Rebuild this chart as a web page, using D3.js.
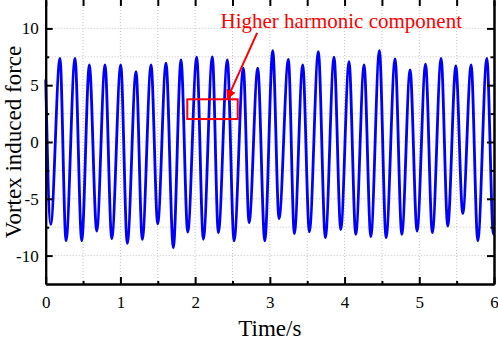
<!DOCTYPE html>
<html>
<head>
<meta charset="utf-8">
<script src="https://cdn.jsdelivr.net/npm/d3@7"></script>
<style>
body { margin: 0; background: #fff; }
text { font-family: "Liberation Serif", "Times New Roman", serif; }
</style>
</head>
<body>
<script>
// peaks and troughs (time in s, force)
var times = [0, 0.067, 0.191, 0.272, 0.392, 0.482, 0.584, 0.683, 0.794, 0.884,
	1.004, 1.092, 1.209, 1.293, 1.41, 1.499, 1.61, 1.708, 1.811, 1.901,
	2.021, 2.11, 2.23, 2.311, 2.431, 2.521, 2.645, 2.722, 2.838, 2.932,
	3.039, 3.123, 3.248, 3.328, 3.44, 3.529, 3.649, 3.743, 3.859, 3.949,
	4.06, 4.15, 4.261, 4.351, 4.466, 4.556, 4.676, 4.766, 4.877, 4.97,
	5.084, 5.175, 5.292, 5.381, 5.489, 5.582, 5.694, 5.783, 5.904, 5.992, 6];
var force = [5.5, -7.25, 7.37, -8.7, 7.37, -8.7, 6.78, -7.84, 6.78, -8.5,
	6.78, -8.92, 6.2, -8.57, 6.78, -7.2, 6.93, -9.3, 7.22, -7.93,
	7.46, -8.57, 7.5, -7.98, 7.22, -8.7, 6.49, -7.1, 6.49, -8.7,
	8.04, -6.75, 7.28, -8.07, 6.78, -7.9, 7.95, -8.42, 7.46, -7.7,
	7.07, -8.13, 6.78, -8.33, 8.04, -8.42, 7.31, -8.13, 6.34, -7.84,
	6.85, -7.98, 7.37, -7.4, 6.69, -6.29, 6.78, -8.7, 7.37, -8.13, -8.0];

var xTicks = [0, 1, 2, 3, 4, 5, 6],
	yTicks = [-10, -5, 0, 5, 10];

var noteText = "Higher harmonic component";

var width = 498, height = 341;
var margin = {top: 0, left: 45.7, right: 4, bottom: 57};

var x = d3.scaleLinear()
	.domain([0, 6])
	.range([margin.left, width - margin.right]);

var y = d3.scaleLinear()
	.domain([-12.5, 12.5])
	.range([height - margin.bottom, margin.top]);

var svg = d3.select('body')
	.append('svg')
	.attr('width', width)
	.attr('height', height);

// dotted grid at every major and minor tick
var gx = d3.range(0.5, 6, 0.5),
	gy = d3.range(-10, 12.5, 2.5);

svg.append('g')
	.selectAll('line')
	.data(gx)
	.enter().append('line')
	.attr('x1', function(d) { return x(d); })
	.attr('x2', function(d) { return x(d); })
	.attr('y1', y(-12.5))
	.attr('y2', y(12.5))
	.attr('stroke', '#c4c4c4')
	.attr('stroke-dasharray', '1,2');

svg.append('g')
	.selectAll('line')
	.data(gy)
	.enter().append('line')
	.attr('x1', x(0))
	.attr('x2', x(6))
	.attr('y1', function(d) { return y(d); })
	.attr('y2', function(d) { return y(d); })
	.attr('stroke', '#c4c4c4')
	.attr('stroke-dasharray', '1,2');

// the signal
var pts = times.map(function(t, i) { return [t, force[i]]; });

var line = d3.line()
	.x(function(d) { return x(d[0]); })
	.y(function(d) { return y(d[1]); })
	.curve(d3.curveMonotoneX);

svg.append('path')
	.datum(pts)
	.attr('fill', 'none')
	.attr('stroke', '#0000ff')
	.attr('stroke-width', 2.8)
	.attr('stroke-linejoin', 'round')
	.attr('d', line);

// axes, ticks pointing inward
function styleAxis(g) {
	g.select('.domain').attr('stroke', '#000').attr('stroke-width', 2);
	g.selectAll('.tick line').attr('stroke', '#000').attr('stroke-width', 2);
	g.selectAll('.tick text')
		.attr('fill', '#000')
		.style('font-size', '17px')
		.style('font-family', '"Liberation Serif", serif');
}

var plain = function(d) { return String(d); };

var xMinor = d3.range(0.5, 6, 1),
	yMinor = [-7.5, -2.5, 2.5, 7.5];

svg.append('g')
	.attr('transform', 'translate(0,' + y(-12.5) + ')')
	.call(d3.axisBottom(x).tickValues(xTicks).tickSize(-7).tickPadding(12).tickFormat(plain).tickSizeOuter(0))
	.call(styleAxis);

svg.append('g')
	.attr('transform', 'translate(0,' + y(-12.5) + ')')
	.call(d3.axisBottom(x).tickValues(xMinor).tickSize(-3).tickFormat('').tickSizeOuter(0))
	.call(styleAxis);

var topAxis = svg.append('g')
	.attr('transform', 'translate(0,' + y(12.5) + ')')
	.call(d3.axisTop(x).tickValues(xTicks.concat(xMinor)).tickSize(-6).tickFormat('').tickSizeOuter(0))
	.call(styleAxis);
topAxis.select('.domain').remove();

svg.append('g')
	.attr('transform', 'translate(' + x(0) + ',0)')
	.call(d3.axisLeft(y).tickValues(yTicks).tickSize(-7).tickPadding(7).tickFormat(plain).tickSizeOuter(0))
	.call(styleAxis);

svg.append('g')
	.attr('transform', 'translate(' + x(0) + ',0)')
	.call(d3.axisLeft(y).tickValues(yMinor).tickSize(-3.5).tickFormat('').tickSizeOuter(0))
	.call(styleAxis);

svg.append('g')
	.attr('transform', 'translate(' + x(6) + ',0)')
	.call(d3.axisRight(y).tickValues(yTicks).tickSize(-7).tickFormat('').tickSizeOuter(0))
	.call(styleAxis);

svg.append('g')
	.attr('transform', 'translate(' + x(6) + ',0)')
	.call(d3.axisRight(y).tickValues(yMinor).tickSize(-3.5).tickFormat('').tickSizeOuter(0))
	.call(styleAxis);

// axis titles
svg.append('text')
	.attr('x', (x(0) + x(6)) / 2)
	.attr('y', 336)
	.attr('text-anchor', 'middle')
	.style('font-size', '23px')
	.text('Time/s');

svg.append('text')
	.attr('transform', 'translate(21,' + y(0) + ') rotate(-90)')
	.attr('text-anchor', 'middle')
	.style('font-size', '23px')
	.text('Vortex induced force');

// annotation
var red = '#ff0000';

svg.append('defs').append('marker')
	.attr('id', 'head')
	.attr('viewBox', '0 0 10 10')
	.attr('refX', 9)
	.attr('refY', 5)
	.attr('markerWidth', 5)
	.attr('markerHeight', 5)
	.attr('orient', 'auto')
	.append('path')
	.attr('d', 'M0,0L10,5L0,10z')
	.attr('fill', red);

svg.append('rect')
	.attr('x', x(1.895))
	.attr('y', y(3.76))
	.attr('width', x(2.57) - x(1.895))
	.attr('height', y(2.02) - y(3.76))
	.attr('fill', 'none')
	.attr('stroke', red)
	.attr('stroke-width', 2);

svg.append('line')
	.attr('x1', x(2.83))
	.attr('y1', y(9.6))
	.attr('x2', x(2.43))
	.attr('y2', y(3.8))
	.attr('stroke', red)
	.attr('stroke-width', 2)
	.attr('marker-end', 'url(#head)');

svg.append('text')
	.attr('x', x(2.34))
	.attr('y', 28)
	.attr('fill', red)
	.style('font-size', '21px')
	.text(noteText);
</script>
</body>
</html>
